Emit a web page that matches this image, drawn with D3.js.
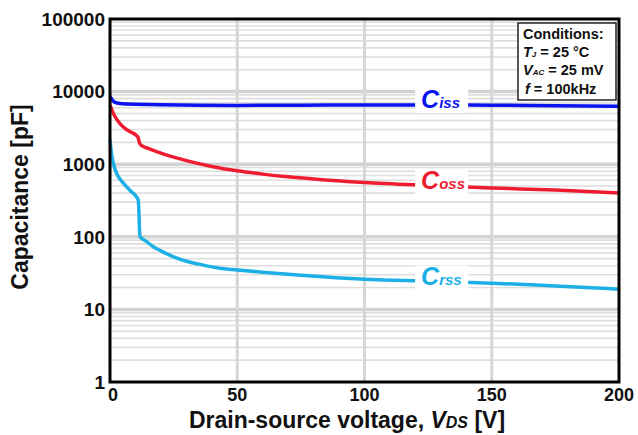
<!DOCTYPE html>
<html><head><meta charset="utf-8">
<script src="https://cdn.jsdelivr.net/npm/d3@7"></script>
<style>
html,body{margin:0;padding:0;background:#fff;}
svg{display:block;font-family:"Liberation Sans",Arial,sans-serif;}
</style></head>
<body><svg id="chart" width="638" height="435"></svg>
<script>
// ---- data ----
const vds_ciss = [0, 1, 2, 4, 7, 10, 20, 35, 50, 75, 100, 125, 150, 175, 200];
const ciss     = [8600, 7600, 7100, 6850, 6750, 6700, 6600, 6500, 6450, 6500, 6550, 6550, 6500, 6400, 6300];
const vds_coss = [0, 1, 2, 4, 6, 8, 10, 11, 11.6, 12.5, 15, 20, 25, 30, 40, 50, 60, 70, 80, 100, 125, 150, 175, 200];
const coss     = [6500, 5300, 4500, 3600, 3100, 2800, 2550, 2350, 1950, 1800, 1650, 1420, 1250, 1120, 930, 810, 730, 670, 625, 560, 510, 470, 440, 400];
const vds_crss = [0, 0.5, 1, 2, 3, 4, 5, 6, 8, 10, 11.1, 11.8, 14, 17, 20, 25, 30, 35, 43, 50, 60, 75, 100, 125, 150, 175, 200];
const crss     = [2200, 1500, 1150, 850, 700, 620, 560, 510, 430, 370, 320, 100, 88, 73, 64, 53, 46, 42, 37, 35, 32.5, 29.5, 26, 24.5, 23, 21, 19];
const yTicks = [1, 10, 100, 1000, 10000, 100000];
const xTicks = [0, 50, 100, 150, 200];
const seriesNames = ["Ciss", "Coss", "Crss"];
const seriesSubs = ["iss", "oss", "rss"];
const labelX = [130.5, 130.5, 130.5];
const conditions = ["Conditions:", "T_J = 25 °C", "V_AC = 25 mV", "f = 100kHz"];

// ---- layout ----
const svg = d3.select("#chart");
const L = 110, R = 619, T = 19, B = 382;
const x = d3.scaleLinear().domain([0, 200]).range([L, R]);
const y = d3.scaleLog().domain([1, 100000]).range([B, T]);

// minor horizontal grid
const minor = [];
for (let d = 1; d < 100000; d *= 10) for (let k = 2; k <= 9; k++) minor.push(d * k);
svg.append("g").selectAll("line").data(minor).join("line")
  .attr("x1", L).attr("x2", R).attr("y1", d => y(d)).attr("y2", d => y(d))
  .attr("stroke", "#dedede").attr("stroke-width", 1.6);
// decade lines
svg.append("g").selectAll("line").data(yTicks.slice(1, -1)).join("line")
  .attr("x1", L).attr("x2", R).attr("y1", d => y(d)).attr("y2", d => y(d))
  .attr("stroke", "#d2d2d2").attr("stroke-width", 3.5);
// vertical grid
svg.append("g").selectAll("line").data(xTicks.slice(1, -1)).join("line")
  .attr("x1", d => x(d)).attr("x2", d => x(d)).attr("y1", T).attr("y2", B)
  .attr("stroke", "#d6d6d6").attr("stroke-width", 3);

// curves
const colors = ["#0a14f0", "#ee1c2e", "#1cb0e6"];
const data = [
  d3.zip(vds_ciss, ciss),
  d3.zip(vds_coss, coss),
  d3.zip(vds_crss, crss)
];
const line = d3.line().x(d => x(d[0])).y(d => y(d[1])).curve(d3.curveMonotoneX);
data.forEach((s, i) => {
  svg.append("path").attr("d", line(s)).attr("fill", "none")
    .attr("stroke", colors[i]).attr("stroke-width", 3.5).attr("stroke-linejoin", "round");
});

// series labels with white gap
function interp(s, v) {
  for (let j = 1; j < s.length; j++) if (s[j][0] >= v) {
    const t = (v - s[j-1][0]) / (s[j][0] - s[j-1][0]);
    return Math.exp(Math.log(s[j-1][1]) * (1 - t) + Math.log(s[j][1]) * t);
  }
  return s[s.length - 1][1];
}
data.forEach((s, i) => {
  const cx = x(labelX[i]);
  const cy = y(interp(s, labelX[i]));
  svg.append("rect").attr("x", cx - 27).attr("y", cy - 16).attr("width", 53).attr("height", 24).attr("fill", "#fff");
  const t = svg.append("text").attr("x", cx - 21).attr("y", cy + 3.5)
    .attr("fill", colors[i]).attr("font-weight", "bold").attr("font-style", "italic");
  t.append("tspan").attr("font-size", 25).text(seriesNames[i][0]);
  t.append("tspan").attr("font-size", 15).text(seriesSubs[i]);
});

// frame
svg.append("rect").attr("x", L).attr("y", T).attr("width", R - L).attr("height", B - T)
  .attr("fill", "none").attr("stroke", "#000").attr("stroke-width", 3);

// y tick labels
svg.append("g").selectAll("text").data(yTicks).join("text")
  .attr("x", 105).attr("y", d => y(d)).attr("dy", "0.36em").attr("text-anchor", "end")
  .attr("font-size", 19).attr("font-weight", "bold").attr("fill", "#111").text(d => d);
// x tick labels
svg.append("g").selectAll("text").data(xTicks).join("text")
  .attr("x", d => x(d) + (d === 0 ? 3 : 0)).attr("y", 401).attr("text-anchor", "middle")
  .attr("font-size", 18).attr("font-weight", "bold").attr("fill", "#111").text(d => d);

// axis titles
const xt = svg.append("text").attr("x", 347).attr("y", 428).attr("text-anchor", "middle")
  .attr("font-size", 23).attr("font-weight", "bold").attr("fill", "#111");
xt.append("tspan").text("Drain-source voltage, ");
xt.append("tspan").attr("font-style", "italic").text("V");
xt.append("tspan").attr("font-style", "italic").attr("font-size", 16).text("DS");
xt.append("tspan").text(" [V]");
svg.append("text").attr("transform", "translate(28,197) rotate(-90)").attr("text-anchor", "middle")
  .attr("font-size", 23).attr("font-weight", "bold").attr("fill", "#111").text("Capacitance [pF]");

// conditions box
svg.append("rect").attr("x", 518).attr("y", 23).attr("width", 98).attr("height", 77)
  .attr("fill", "#fff").attr("stroke", "#222").attr("stroke-width", 1.5);
const cg = svg.append("g").attr("font-size", 14.5).attr("font-weight", "bold").attr("fill", "#111");
cg.append("text").attr("x", 523).attr("y", 39).text(conditions[0]);
const l1 = cg.append("text").attr("x", 523).attr("y", 57);
l1.append("tspan").attr("font-style", "italic").text("T");
l1.append("tspan").attr("font-style", "italic").attr("font-size", 8).text("J");
l1.append("tspan").text(" =  25  °C");
const l2 = cg.append("text").attr("x", 523).attr("y", 75);
l2.append("tspan").attr("font-style", "italic").text("V");
l2.append("tspan").attr("font-style", "italic").attr("font-size", 8).text("AC");
l2.append("tspan").text(" = 25 mV");
const l3 = cg.append("text").attr("x", 525).attr("y", 94);
l3.append("tspan").attr("font-style", "italic").text("f");
l3.append("tspan").text(" = 100kHz");
</script></body></html>
